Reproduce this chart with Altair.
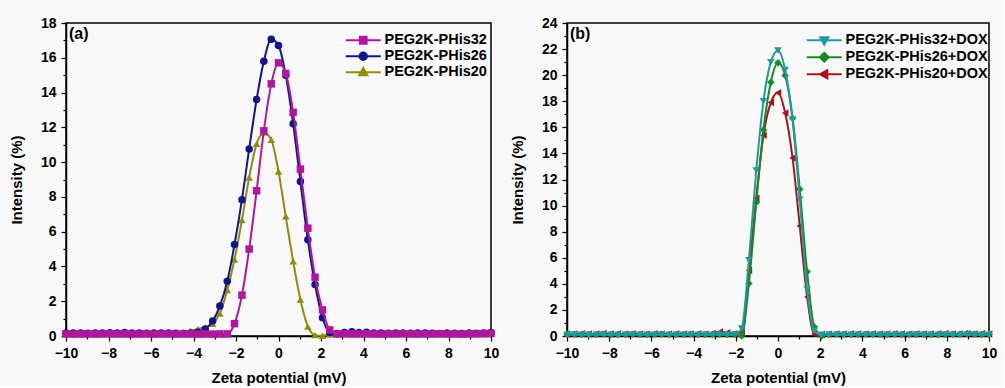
import altair as alt
import pandas as pd

# ---------------- data ----------------
x_grid = [-10.00, -9.66, -9.31, -8.97, -8.62, -8.28, -7.93, -7.59, -7.24, -6.90,
          -6.55, -6.21, -5.86, -5.52, -5.17, -4.83, -4.48, -4.14, -3.79, -3.45,
          -3.10, -2.76, -2.41, -2.07, -1.72, -1.38, -1.03, -0.69, -0.34, 0.00,
          0.34, 0.69, 1.03, 1.38, 1.72, 2.07, 2.41, 2.76, 3.10, 3.45,
          3.79, 4.14, 4.48, 4.83, 5.17, 5.52, 5.86, 6.21, 6.55, 6.90,
          7.24, 7.59, 7.93, 8.28, 8.62, 8.97, 9.31, 9.66, 10.00]

phis32 = [0.12, 0.11, 0.12, 0.12, 0.11, 0.12, 0.13, 0.12, 0.12, 0.11,
          0.12, 0.12, 0.11, 0.12, 0.12, 0.11, 0.12, 0.12, 0.11, 0.12,
          0.11, 0.12, 0.12, 0.71, 2.35, 5.00, 8.35, 11.80, 14.50, 15.71,
          15.10, 12.86, 9.60, 6.20, 3.38, 1.50, 0.35, 0.12, 0.13, 0.12,
          0.12, 0.13, 0.12, 0.11, 0.12, 0.12, 0.13, 0.12, 0.11, 0.12,
          0.12, 0.13, 0.12, 0.12, 0.11, 0.12, 0.13, 0.14, 0.15]
phis26 = [0.18, 0.17, 0.18, 0.16, 0.17, 0.18, 0.19, 0.18, 0.20, 0.18,
          0.17, 0.16, 0.17, 0.18, 0.17, 0.16, 0.15, 0.17, 0.22, 0.40,
          0.86, 1.72, 3.15, 5.26, 7.84, 10.76, 13.60, 15.80, 17.07, 16.70,
          15.00, 12.20, 8.89, 5.54, 2.96, 1.05, 0.20, 0.15, 0.20, 0.25,
          0.20, 0.22, 0.18, 0.17, 0.16, 0.18, 0.17, 0.16, 0.18, 0.17,
          0.16, 0.15, 0.17, 0.16, 0.15, 0.17, 0.16, 0.18, 0.20]
phis20 = [0.15, 0.16, 0.15, 0.14, 0.15, 0.16, 0.15, 0.14, 0.15, 0.16,
          0.15, 0.14, 0.15, 0.16, 0.15, 0.17, 0.20, 0.30, 0.40, 0.50,
          0.70, 1.30, 2.65, 4.40, 6.67, 9.12, 11.05, 11.70, 11.28, 9.46,
          6.88, 4.30, 2.10, 0.55, 0.05, 0.02, 0.12, 0.15, 0.16, 0.15,
          0.14, 0.15, 0.16, 0.15, 0.14, 0.15, 0.16, 0.15, 0.14, 0.15,
          0.16, 0.15, 0.14, 0.15, 0.16, 0.15, 0.14, 0.15, 0.16]

dox32 = [0.10, 0.11, 0.10, 0.09, 0.10, 0.11, 0.10, 0.09, 0.10, 0.11,
         0.10, 0.09, 0.10, 0.11, 0.10, 0.09, 0.10, 0.11, 0.10, 0.09,
         0.10, 0.11, 0.10, 0.12, 0.57, 5.80, 12.70, 18.00, 21.00, 21.90,
         20.40, 16.60, 10.44, 3.57, 0.40, 0.10, 0.11, 0.10, 0.09, 0.10,
         0.11, 0.10, 0.09, 0.10, 0.11, 0.10, 0.09, 0.10, 0.11, 0.10,
         0.09, 0.10, 0.11, 0.10, 0.09, 0.10, 0.11, 0.10, 0.10]
dox26 = [0.12, 0.13, 0.12, 0.11, 0.12, 0.13, 0.12, 0.11, 0.12, 0.13,
         0.12, 0.11, 0.12, 0.13, 0.12, 0.11, 0.12, 0.13, 0.12, 0.11,
         0.12, 0.13, 0.12, 0.11, 0.00, 4.03, 10.23, 15.80, 19.46, 20.95,
         19.98, 16.70, 11.26, 4.92, 0.70, 0.00, 0.12, 0.13, 0.12, 0.11,
         0.12, 0.13, 0.12, 0.11, 0.12, 0.13, 0.12, 0.11, 0.12, 0.13,
         0.12, 0.11, 0.12, 0.13, 0.12, 0.20, 0.13, 0.12, 0.12]
dox20 = [0.15, 0.16, 0.18, 0.15, 0.16, 0.20, 0.15, 0.17, 0.15, 0.18,
         0.16, 0.15, 0.18, 0.16, 0.15, 0.17, 0.16, 0.15, 0.18, 0.16,
         0.20, 0.30, 0.25, 0.18, 0.30, 5.05, 10.57, 15.40, 17.90, 18.65,
         17.10, 13.65, 8.44, 3.00, 0.15, 0.12, 0.15, 0.16, 0.15, 0.17,
         0.16, 0.15, 0.18, 0.16, 0.15, 0.17, 0.16, 0.15, 0.18, 0.16,
         0.15, 0.17, 0.20, 0.16, 0.15, 0.18, 0.16, 0.17, 0.16]

names_a = ["PEG2K-PHis32", "PEG2K-PHis26", "PEG2K-PHis20"]
names_b = ["PEG2K-PHis32+DOX", "PEG2K-PHis26+DOX", "PEG2K-PHis20+DOX"]
values_a = [phis32, phis26, phis20]
values_b = [dox32, dox26, dox20]
colors_a = ["#b0179c", "#14148c", "#8e8e0c"]
colors_b = ["#1f9a9e", "#178a22", "#a8141a"]
shapes_a = ["square", "circle", "triangle-up"]
shapes_b = ["triangle-down", "diamond", "triangle-left"]
legend_paths_a = ["M-5,0H5M-1,-1H1V1H-1Z",
                  "M-5,0H5M1.1,0A1.1,1.1,0,1,1,-1.1,0A1.1,1.1,0,1,1,1.1,0Z",
                  "M-5,0H5M0,-1.3L1.2,0.9H-1.2Z"]
legend_paths_b = ["M-5,0H5M0,1.3L1.2,-0.9H-1.2Z",
                  "M-5,0H5M0,-1.3L1.3,0L0,1.3L-1.3,0Z",
                  "M-5,0H5M-1.3,0L0.9,-1.2V1.2Z"]
panel_labels = ["(a)", "(b)"]
x_major = [-10, -8, -6, -4, -2, 0, 2, 4, 6, 8, 10]
x_minor = [-9, -7, -5, -3, -1, 1, 3, 5, 7, 9]

FONT = "Liberation Sans"


def panel(names, values, colors, shapes, paths, ymax, label, lx, ly, lab_off, key, width):
    rows = []
    for n, vals in zip(names, values):
        for xv, yv in zip(x_grid, vals):
            rows.append({"x": xv, "y": yv, key: n})
    df = pd.DataFrame(rows)

    xs = alt.Scale(domain=[-10, 10], nice=False, zero=False)
    ys = alt.Scale(domain=[0, ymax], nice=False)
    y_major = list(range(0, ymax + 1, 2))
    y_minor = list(range(1, ymax, 2))

    x_axis = alt.Axis(values=x_major, title="Zeta potential (mV)", labelFlush=False,
                      tickSize=5, labelPadding=5, titlePadding=10, grid=False, format="d")
    y_axis = alt.Axis(values=y_major, title="Intensity (%)", tickSize=5,
                      labelPadding=5, titlePadding=16, grid=False, format="d")
    X = alt.X("x:Q", scale=xs, axis=x_axis)
    Y = alt.Y("y:Q", scale=ys, axis=y_axis)

    layers = []
    # draw in reverse order so the first series is on top
    for i in reversed(range(len(names))):
        sub = df[df[key] == names[i]]
        line = alt.Chart(sub).mark_line(interpolate="monotone", strokeWidth=2,
                                        color=colors[i]).encode(x=X, y=Y)
        pts = alt.Chart(sub).mark_point(shape=shapes[i], filled=True, size=56,
                                        color=colors[i], opacity=1).encode(x=X, y=Y)
        layers += [line, pts]

    leg = alt.Legend(title=None, orient="none", legendX=lx, legendY=ly,
                     symbolSize=49, symbolStrokeWidth=1.8, symbolOpacity=1,
                     labelFont=FONT, labelFontWeight="bold", labelFontSize=14.5,
                     labelColor="black", labelOffset=lab_off, rowPadding=0, padding=0)
    legend_layer = alt.Chart(df).mark_point(filled=True, opacity=0).encode(
        x=X, y=Y,
        shape=alt.Shape(f"{key}:N", scale=alt.Scale(domain=names, range=paths), legend=leg),
        fill=alt.Fill(f"{key}:N", scale=alt.Scale(domain=names, range=colors), legend=leg),
        stroke=alt.Stroke(f"{key}:N", scale=alt.Scale(domain=names, range=colors), legend=leg),
    )
    text_layer = alt.Chart(pd.DataFrame({"t": [label]})).mark_text(
        align="left", baseline="middle", font=FONT, fontWeight="bold", fontSize=16,
        color="black").encode(text="t:N", x=alt.value(3), y=alt.value(11))

    inner = alt.layer(*layers, legend_layer, text_layer)

    minor = alt.Chart(df).mark_point(opacity=0).encode(
        x=alt.X("x:Q", scale=xs, axis=alt.Axis(values=x_minor, labels=False, tickSize=3,
                                                domain=False, title=None, grid=False,
                                                orient="bottom")),
        y=alt.Y("y:Q", scale=ys, axis=alt.Axis(values=y_minor, labels=False, tickSize=3,
                                                domain=False, title=None, grid=False,
                                                orient="left")),
    )
    return alt.layer(inner, minor).resolve_axis(x="independent", y="independent").properties(
        width=width, height=313)


left = panel(names_a, values_a, colors_a, shapes_a, legend_paths_a, 18, panel_labels[0],
             290, 10, 14, "series_a", 425)
right = panel(names_b, values_b, colors_b, shapes_b, legend_paths_b, 24, panel_labels[1],
              250, 10, 14, "series_b", 422)

chart = alt.hconcat(left, right, spacing=3).resolve_scale(
    shape="independent", fill="independent", stroke="independent", x="independent", y="independent"
).resolve_legend(shape="independent", fill="independent", stroke="independent").properties(
    background="#f8f8f8",
    padding={"left": 8, "top": 15, "right": 0, "bottom": 0},
).configure_view(stroke="black", strokeWidth=1.5).configure_axis(
    labelFont=FONT, labelFontWeight="bold", labelFontSize=14, labelColor="black",
    titleFont=FONT, titleFontWeight="bold", titleFontSize=15, titleColor="black",
    tickColor="black", tickWidth=1.2, domainColor="black", domainWidth=1.5,
)

chart.save("out.html", embed_options={"renderer": "svg", "actions": False})
